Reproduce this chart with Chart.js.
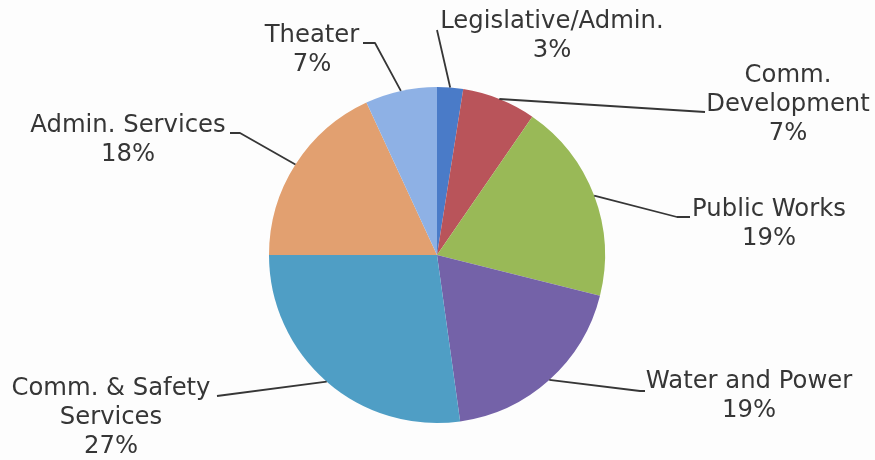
<!DOCTYPE html>
<html>
<head>
<meta charset="utf-8">
<script src="https://cdn.jsdelivr.net/npm/chart.js@4.4.1/dist/chart.umd.min.js"></script>
<style>
  html, body { margin: 0; padding: 0; background: #fdfdfd; }
  #wrap { width: 875px; height: 460px; }
</style>
</head>
<body>
<div id="wrap"><canvas id="myChart" width="875" height="460"></canvas></div>
<script>
// data (share of budget, %)
var labelLines = [
  ["Legislative/Admin."],
  ["Comm.", "Development"],
  ["Public Works"],
  ["Water and Power"],
  ["Comm. & Safety", "Services"],
  ["Admin. Services"],
  ["Theater"]
];
var shares = [2.5, 7.1, 19.3, 18.9, 27.2, 18.1, 6.9];
var sliceColors = ["#4a7bc8", "#b9545a", "#99b957", "#7462a8", "#4f9ec5", "#e2a070", "#8eb1e5"];

// where each label block sits: centre x, first line centre y, and the leader line's bends
var labelSpots = [
  { x: 552, y: 22, pts: [[437, 30]] },
  { x: 788, y: 76, pts: [[705, 112]] },
  { x: 769, y: 210, pts: [[677, 217], [690, 217]] },
  { x: 749, y: 382, pts: [[640, 391], [645, 391]] },
  { x: 111, y: 389, pts: [[217, 396]] },
  { x: 128, y: 126, pts: [[240, 133], [230, 133]] },
  { x: 312, y: 36, pts: [[375, 43], [363, 43]] }
];

var leaderLabels = {
  id: "leaderLabels",
  afterDraw: function(chart) {
    var ctx = chart.ctx;
    var arcs = chart.getDatasetMeta(0).data;
    var total = shares.reduce(function(a, b) { return a + b; }, 0);
    ctx.save();
    ctx.strokeStyle = "#363636";
    ctx.lineWidth = 1.8;
    ctx.lineJoin = "round";
    ctx.fillStyle = "#363636";
    ctx.font = "24.3px 'DejaVu Sans', Verdana, sans-serif";
    ctx.textAlign = "center";
    ctx.textBaseline = "middle";
    for (var i = 0; i < arcs.length; i++) {
      var a = arcs[i];
      var mid = (a.startAngle + a.endAngle) / 2;
      var ax = a.x + Math.cos(mid) * a.outerRadius;
      var ay = a.y + Math.sin(mid) * a.outerRadius;
      var spot = labelSpots[i];
      ctx.beginPath();
      ctx.moveTo(ax, ay);
      for (var p = 0; p < spot.pts.length; p++) {
        ctx.lineTo(spot.pts[p][0], spot.pts[p][1]);
      }
      ctx.stroke();
      var lines = labelLines[i].concat([Math.round(shares[i] / total * 100) + "%"]);
      for (var k = 0; k < lines.length; k++) {
        ctx.fillText(lines[k], spot.x, spot.y + k * 28.8);
      }
    }
    ctx.restore();
  }
};

var myChart = document.getElementById("myChart");
var chart = new Chart(myChart, {
  type: "pie",
  data: {
    labels: labelLines.map(function(l) { return l.join(" "); }),
    datasets: [{
      data: shares,
      backgroundColor: sliceColors,
      borderWidth: 0
    }]
  },
  options: {
    responsive: false,
    animation: false,
    layout: { padding: { top: 87, bottom: 37, left: 0, right: 1 } },
    plugins: {
      legend: { display: false },
      tooltip: { enabled: false }
    }
  },
  plugins: [leaderLabels]
});
</script>
</body>
</html>
